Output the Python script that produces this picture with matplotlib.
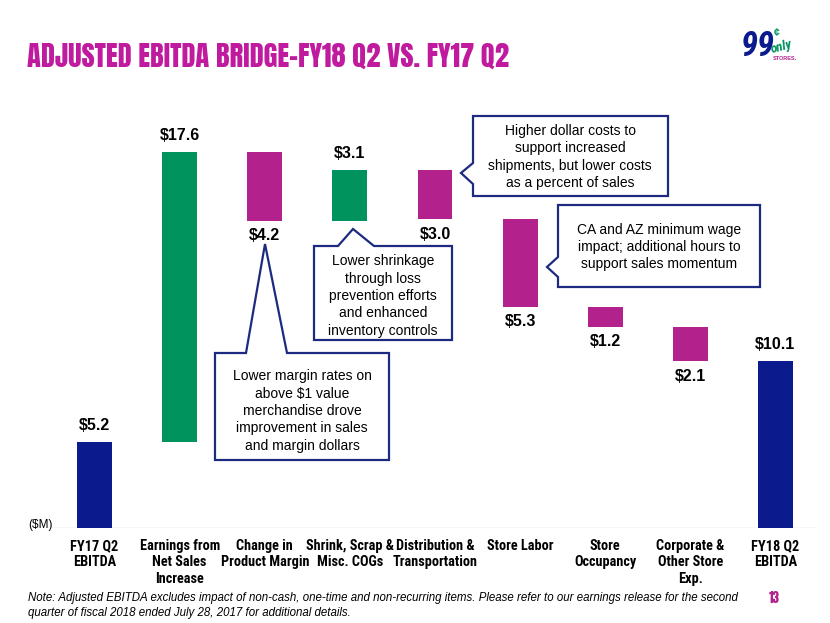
import matplotlib
matplotlib.use("Agg")
import matplotlib.pyplot as plt
from matplotlib.patches import Polygon

# データ（百万ドル）
categories = ["FY17 Q2\nEBITDA", "Earnings from\nNet Sales\nIncrease", "Change in\nProduct Margin",
              "Shrink, Scrap &\nMisc. COGs", "Distribution &\nTransportation", "Store Labor",
              "Store\nOccupancy", "Corporate &\nOther Store\nExp.", "FY18 Q2\nEBITDA"]
deltas = [5.2, 17.6, -4.2, 3.1, -3.0, -5.3, -1.2, -2.1, 10.1]
kinds = ["total", "up", "down", "up", "down", "down", "down", "down", "total"]
value_labels = ["$5.2", "$17.6", "$4.2", "$3.1", "$3.0", "$5.3", "$1.2", "$2.1", "$10.1"]

NAVY = "#0B1A8C"
GREEN = "#00935E"
MAGENTA = "#B3218D"
TITLE_C = "#C01A9E"
BOX_EDGE = "#1C2A80"
COND = ["Roboto Condensed", "DejaVu Sans"]

W, H = 830, 623
fig = plt.figure(figsize=(W / 100, H / 100), dpi=100)
fig.patch.set_facecolor("white")


def px(x, y):
    return (x / W, 1 - y / H)


ax = fig.add_axes([52 / W, (H - 528) / H, (818 - 52) / W, (528 - 110) / H])
ax.set_xlim(-0.5, len(categories) - 0.5)
ax.set_ylim(0, 25.33)

colors = {"total": NAVY, "up": GREEN, "down": MAGENTA}
running = 0.0
for i, (d, k, lab) in enumerate(zip(deltas, kinds, value_labels)):
    if k == "total":
        bottom, height = 0, d
        running = d
    else:
        bottom = running if d > 0 else running + d
        height = abs(d)
        running += d
    ax.bar(i, height, bottom=bottom, width=0.41, color=colors[k], zorder=2)
    if d > 0:
        ax.text(i, bottom + height + 0.55, lab, ha="center", va="bottom",
                fontsize=11.5, fontweight="bold", family="Liberation Sans")
    else:
        ax.text(i, bottom - 0.45, lab, ha="center", va="top",
                fontsize=11.5, fontweight="bold", family="Liberation Sans")

ax.axhline(0, color="#D9D9D9", lw=1, zorder=1)
for s in ax.spines.values():
    s.set_visible(False)
ax.set_yticks([])
ax.set_xticks(range(len(categories)))
ax.set_xticklabels(categories, fontsize=10.3, fontweight="bold", family=COND, linespacing=1.2)
ax.tick_params(axis="x", length=0, pad=8)

# タイトル
fig.text(*px(27, 56), "ADJUSTED EBITDA BRIDGE-FY18 Q2 VS. FY17 Q2", color=TITLE_C,
         fontsize=20.5, family=["Anton", "DejaVu Sans"], ha="left", va="center")

# ロゴ
fig.text(*px(741, 46), "99", color=NAVY, fontsize=25, fontweight="bold", style="italic",
         family=COND, ha="left", va="center")
fig.text(*px(774, 33), "¢", color=GREEN, fontsize=7.5, fontweight="bold",
         family="Liberation Sans", ha="left", va="center")
fig.text(*px(769, 47), "only", color=GREEN, fontsize=9.5, fontweight="bold", style="italic",
         family=COND, ha="left", va="center", rotation=15)
fig.text(*px(773, 59), "STORES.", color=MAGENTA, fontsize=4, fontweight="bold",
         family="Liberation Sans", ha="left", va="center")

fig.text(*px(28, 525), "($M)", fontsize=8.5, family="Liberation Sans", ha="left", va="center")

# 注記
fig.text(*px(28, 598), "Note: Adjusted EBITDA excludes impact of non-cash, one-time and non-recurring items. "
         "Please refer to our earnings release for the second", fontsize=8.3, style="italic",
         family="Liberation Sans", ha="left", va="center")
fig.text(*px(28, 613), "quarter of fiscal 2018 ended July 28, 2017 for additional details.",
         fontsize=8.3, style="italic", family="Liberation Sans", ha="left", va="center")
fig.text(*px(769, 598), "13", color=MAGENTA, fontsize=9.5, family=["Anton", "DejaVu Sans"],
         ha="left", va="center")


# 吹き出し
def callout(pts, text, cx, cy):
    poly = Polygon([px(x, y) for x, y in pts], closed=True, transform=fig.transFigure,
                   facecolor="white", edgecolor=BOX_EDGE, lw=1.6, zorder=5)
    fig.add_artist(poly)
    fig.text(*px(cx, cy), text, ha="center", va="center", fontsize=10,
             family="Liberation Sans", linespacing=1.3, zorder=6)


callout([(215, 353), (246, 353), (265, 244), (287, 353), (389, 353), (389, 460), (215, 460)],
        "Lower margin rates on\nabove $1 value\nmerchandise drove\nimprovement in sales\nand margin dollars",
        302, 411)
callout([(314, 246), (338, 246), (353, 229), (374, 246), (452, 246), (452, 340), (314, 340)],
        "Lower shrinkage\nthrough loss\nprevention efforts\nand enhanced\ninventory controls",
        383, 296)
callout([(473, 116), (668, 116), (668, 196), (473, 196), (473, 184), (461, 173), (473, 163)],
        "Higher dollar costs to\nsupport increased\nshipments, but lower costs\nas a percent of sales",
        570, 157)
callout([(558, 205), (760, 205), (760, 287), (558, 287), (558, 277), (547, 267), (558, 257)],
        "CA and AZ minimum wage\nimpact; additional hours to\nsupport sales momentum",
        659, 247)

fig.savefig("out.png", dpi=100)
